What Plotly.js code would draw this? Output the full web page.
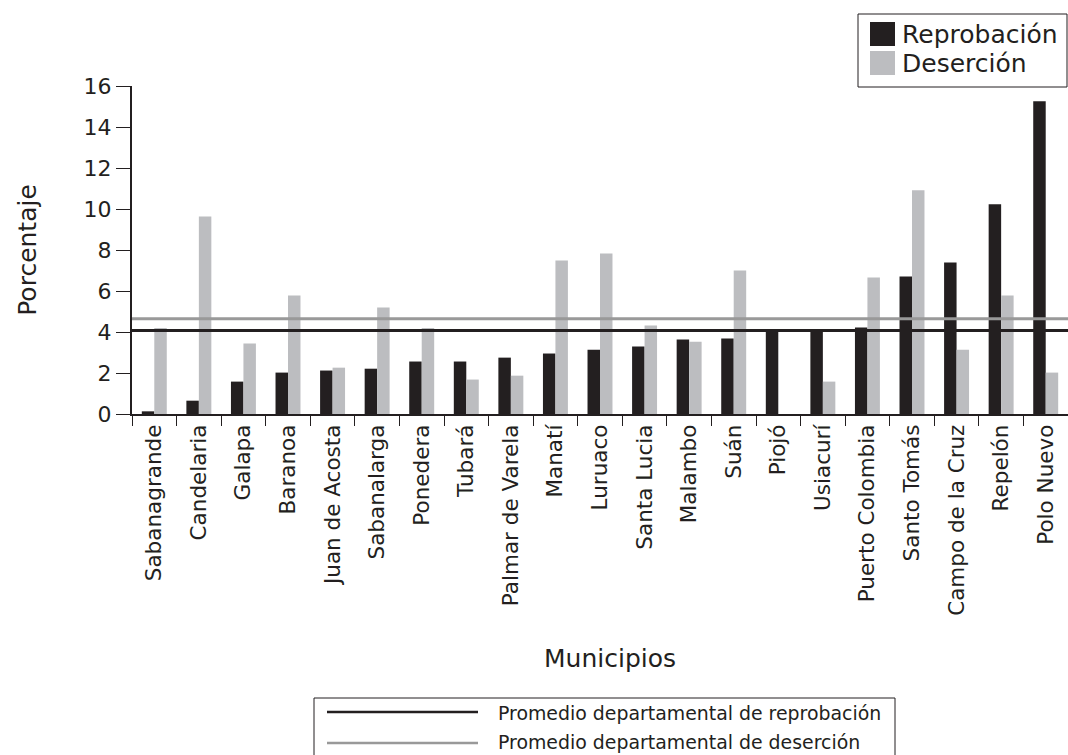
<!DOCTYPE html>
<html><head><meta charset="utf-8">
<script src="https://cdn.plot.ly/plotly-3.0.1.min.js"></script>
<style>body{margin:0;background:#fff}#chart{width:1068px;height:755px}</style>
</head><body><div id="chart"></div>
<script>
const municipios = ["Sabanagrande","Candelaria","Galapa","Baranoa","Juan de Acosta","Sabanalarga","Ponedera","Tubará","Palmar de Varela","Manatí","Luruaco","Santa Lucia","Malambo","Suán","Piojó","Usiacurí","Puerto Colombia","Santo Tomás","Campo de la Cruz","Repelón","Polo Nuevo"];
const reprobacion = [0.13,0.65,1.58,2.02,2.12,2.21,2.56,2.56,2.75,2.95,3.13,3.29,3.63,3.68,4.02,4.02,4.22,6.71,7.39,10.23,15.26];
const desercion = [4.19,9.64,3.44,5.78,2.26,5.2,4.19,1.68,1.87,7.49,7.83,4.32,3.53,7.0,0,1.58,6.66,10.91,3.14,5.78,2.02];
const promedioReprobacion = 4.07;
const promedioDesercion = 4.65;
const seriesNames = ["Reprobación","Deserción"];
const lineLabels = ["Promedio departamental de reprobación","Promedio departamental de deserción"];

const FONT = "DejaVu Sans, sans-serif";
const BLACK = "#231f20", GRAY = "#bcbdc0", LGRAY = "#999999";

const traces = [
  {type:"bar", name:seriesNames[0], x:municipios, y:reprobacion, marker:{color:BLACK}},
  {type:"bar", name:seriesNames[1], x:municipios, y:desercion, marker:{color:GRAY}},
  {type:"scatter", mode:"lines", name:lineLabels[1], x:[0,1], y:[promedioDesercion,promedioDesercion], xaxis:"x2", line:{color:LGRAY,width:3}},
  {type:"scatter", mode:"lines", name:lineLabels[0], x:[0,1], y:[promedioReprobacion,promedioReprobacion], xaxis:"x2", line:{color:BLACK,width:3}}
];

// helpers: pixel -> paper coords (plot area x 132..1068, y 86..414)
const px = v => (v-132)/936;
const py = v => (414-v)/328;

const layout = {
  width:1068, height:755,
  margin:{l:132, r:0, t:86, b:341},
  paper_bgcolor:"#fff", plot_bgcolor:"#fff",
  font:{family:FONT, color:BLACK},
  barmode:"group", bargap:0.44, bargroupgap:0,
  showlegend:false,
  xaxis:{type:"category", tickson:"boundaries", ticks:"outside", ticklen:10, tickwidth:1, tickcolor:BLACK, tickangle:-90, tickfont:{size:21.5, color:BLACK}, showline:true, linecolor:BLACK, linewidth:2, showgrid:false,
    title:{text:"", font:{size:25, color:BLACK}}},
  xaxis2:{overlaying:"x", range:[0,1], visible:false, fixedrange:true},
  yaxis:{range:[0,16], dtick:2, ticks:"outside", ticklen:14, tickwidth:1, tickcolor:BLACK, tickfont:{size:22, color:BLACK}, showline:true, linecolor:BLACK, linewidth:2, showgrid:false, zeroline:false,
    title:{text:"Porcentaje", font:{size:25, color:BLACK}, standoff:40}},
  shapes:[
    // top legend (series)
    {type:"rect", xref:"paper", yref:"paper", x0:px(858), x1:px(1067), y0:py(14), y1:py(87), line:{color:BLACK,width:1}, fillcolor:"#fff"},
    {type:"rect", xref:"paper", yref:"paper", x0:px(870), x1:px(895), y0:py(22), y1:py(46), line:{width:0}, fillcolor:BLACK},
    {type:"rect", xref:"paper", yref:"paper", x0:px(870), x1:px(895), y0:py(51), y1:py(75), line:{width:0}, fillcolor:GRAY},
    // bottom legend (average lines)
    {type:"rect", xref:"paper", yref:"paper", x0:px(314), x1:px(895), y0:py(698), y1:py(757), line:{color:BLACK,width:1}},
    {type:"line", xref:"paper", yref:"paper", x0:px(327), x1:px(478), y0:py(712), y1:py(712), line:{color:BLACK,width:2.5}},
    {type:"line", xref:"paper", yref:"paper", x0:px(327), x1:px(478), y0:py(743), y1:py(743), line:{color:LGRAY,width:2.5}}
  ],
  annotations:[
    {xref:"paper", yref:"paper", x:px(610), y:py(658), xanchor:"center", yanchor:"middle", text:"Municipios", showarrow:false, font:{size:25, color:BLACK}},
    {xref:"paper", yref:"paper", x:px(900), y:py(34), xanchor:"left", yanchor:"middle", text:seriesNames[0], showarrow:false, font:{size:25, color:BLACK}},
    {xref:"paper", yref:"paper", x:px(900), y:py(64), xanchor:"left", yanchor:"middle", text:seriesNames[1], showarrow:false, font:{size:25, color:BLACK}},
    {xref:"paper", yref:"paper", x:px(496), y:py(713), xanchor:"left", yanchor:"middle", text:lineLabels[0], showarrow:false, font:{size:18.9, color:BLACK}},
    {xref:"paper", yref:"paper", x:px(496), y:py(742), xanchor:"left", yanchor:"middle", text:lineLabels[1], showarrow:false, font:{size:18.9, color:BLACK}}
  ]
};
Plotly.newPlot("chart", traces, layout, {displayModeBar:false, staticPlot:true});
</script></body></html>
